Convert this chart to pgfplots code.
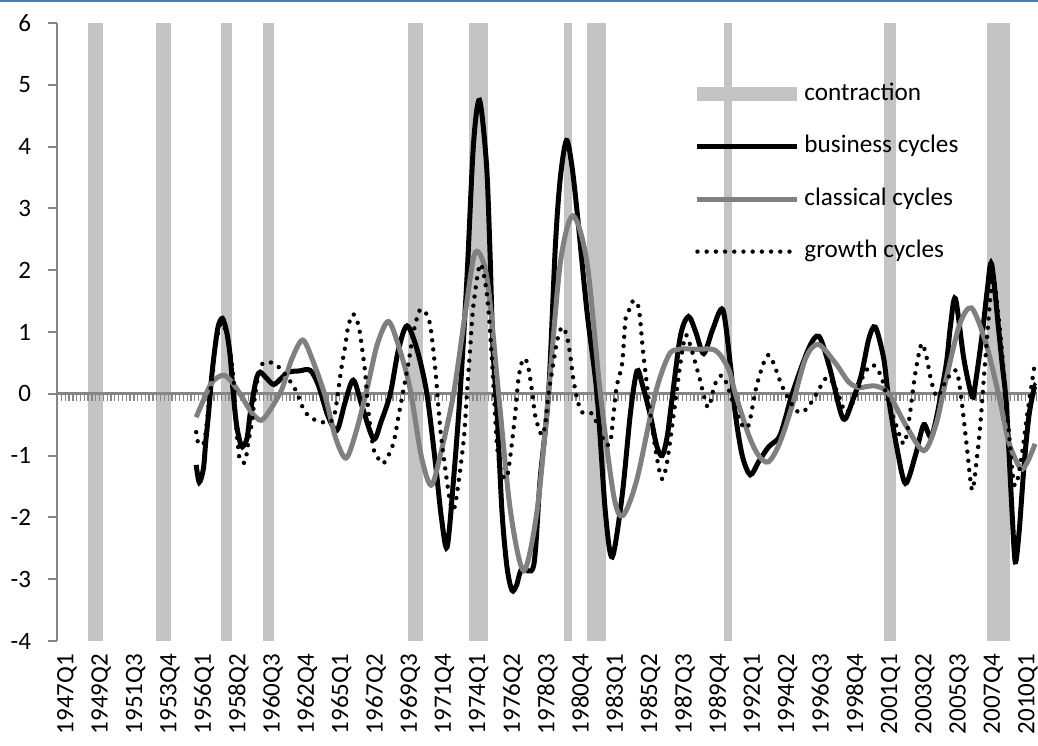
\documentclass[border=0pt]{standalone}
\usepackage{fontspec}
\setmainfont{Carlito}
\usepackage{pgfplots}
\pgfplotsset{compat=1.18}
\definecolor{contr}{RGB}{196,196,196}
\definecolor{axgray}{RGB}{134,134,134}
\definecolor{clsgray}{RGB}{128,128,128}
\definecolor{topblue}{RGB}{74,126,187}
\begin{document}
\begin{tikzpicture}
\begin{axis}[
  name=main,
  at={(0,0)}, anchor=south west,
  scale only axis, width=490pt, height=309pt,
  xmin=-0.5, xmax=256.5, ymin=-4, ymax=6,
  axis y line*=left, axis x line*=bottom,
  x axis line style={draw=none},
  y axis line style={axgray, line width=1pt, -},
  ytick={-4,-3,-2,-1,0,1,2,3,4,5,6},
  ytick style={axgray, line width=1pt},
  major tick length=4.5pt,
  tick align=outside,
  xtick={0,9,...,252},
  xtick style={draw=none},
  xticklabels={1947Q1,1949Q2,1951Q3,1953Q4,1956Q1,1958Q2,1960Q3,1962Q4,1965Q1,1967Q2,1969Q3,1971Q4,1974Q1,1976Q2,1978Q3,1980Q4,1983Q1,1985Q2,1987Q3,1989Q4,1992Q1,1994Q2,1996Q3,1998Q4,2001Q1,2003Q2,2005Q3,2007Q4,2010Q1},
  xticklabel style={rotate=90, anchor=east, yshift=-4pt, xshift=1.5pt, font=\fontsize{12.5}{15}\selectfont},
  yticklabel style={xshift=-5pt, font=\fontsize{12.5}{15}\selectfont},
  /pgf/number format/assume math mode=true,
  legend cell align=left,
  legend image code/.code={\draw[#1] (0pt,0pt) -- (50pt,0pt);},
  legend style={draw=none, fill=none, inner sep=0pt,
    at={(rel axis cs:0.646,0.9045)}, anchor=north west,
    font=\fontsize{12.6}{15}\selectfont, row sep=14.2pt,
    nodes={inner sep=0pt, text height=9pt, text depth=3pt},
    /tikz/every even column/.append style={column sep=5pt}},
]
% contraction periods (quarters after NBER peak through trough)
\addplot[fill=contr, draw=none, forget plot] coordinates {(7.5,-4) (7.5,6) (11.5,6) (11.5,-4)} -- cycle;
\addplot[fill=contr, draw=none, forget plot] coordinates {(25.5,-4) (25.5,6) (29.5,6) (29.5,-4)} -- cycle;
\addplot[fill=contr, draw=none, forget plot] coordinates {(42.5,-4) (42.5,6) (45.5,6) (45.5,-4)} -- cycle;
\addplot[fill=contr, draw=none, forget plot] coordinates {(53.5,-4) (53.5,6) (56.5,6) (56.5,-4)} -- cycle;
\addplot[fill=contr, draw=none, forget plot] coordinates {(91.5,-4) (91.5,6) (95.5,6) (95.5,-4)} -- cycle;
\addplot[fill=contr, draw=none, forget plot] coordinates {(107.5,-4) (107.5,6) (112.5,6) (112.5,-4)} -- cycle;
\addplot[fill=contr, draw=none, forget plot] coordinates {(132.5,-4) (132.5,6) (134.5,6) (134.5,-4)} -- cycle;
\addplot[fill=contr, draw=none, forget plot] coordinates {(138.5,-4) (138.5,6) (143.5,6) (143.5,-4)} -- cycle;
\addplot[fill=contr, draw=none, forget plot] coordinates {(174.5,-4) (174.5,6) (176.5,6) (176.5,-4)} -- cycle;
\addplot[fill=contr, draw=none, forget plot] coordinates {(216.5,-4) (216.5,6) (219.5,6) (219.5,-4)} -- cycle;
\addplot[fill=contr, draw=none, forget plot] coordinates {(243.5,-4) (243.5,6) (249.5,6) (249.5,-4)} -- cycle;
% horizontal axis at zero with quarterly tick marks
\addplot[axgray, line width=2.9pt, dash pattern=on 0.65pt off 1.2555pt, forget plot] coordinates {(-0.5,-0.074) (256.5,-0.074)};
\addplot[axgray, line width=1.65pt, forget plot] coordinates {(-0.5,0) (256.5,0)};
% business cycles
\addplot[black, line width=2.5pt, smooth, tension=0.5, forget plot] coordinates {
(36,-1.15) (36.8,-1.43) (37.9,-1.21) (38.5,-0.78) (39.2,-0.35) (40.1,0.30) (41.0,0.78) (41.8,1.10) (42.9,1.22) (44.0,1.00) (44.9,0.62) (45.8,-0.05) (46.6,-0.51) (47.5,-0.78) (48.1,-0.86) (49.3,-0.73) (50.1,-0.35) (51.0,0.00) (51.9,0.27) (52.8,0.35) (54.5,0.25) (56.3,0.15) (58.3,0.25) (60.2,0.35) (63,0.37) (65.9,0.38) (68.1,0.13) (70.5,-0.35) (72.9,-0.59) (75,-0.15) (77.2,0.22) (79.5,-0.2) (82.5,-0.73) (84.5,-0.45) (86.9,0.0) (89,0.7) (91.3,1.10) (94,0.7) (96.5,0.0) (98.7,-1.10) (100.3,-2.0) (101.8,-2.48) (103.5,-1.38) (105.2,0.0) (107.0,1.86) (108.7,4.02) (110.3,4.75) (112.1,3.74) (113.0,2.39) (113.8,0.78) (114.9,-0.30) (116.2,-1.91) (117.5,-2.8) (118.8,-3.18) (120,-3.1) (121.4,-2.83) (124.5,-2.78) (126.2,-1.38) (128.4,0.0) (130.2,2.40) (131.5,3.5) (133.1,4.10) (134.5,3.7) (135.9,2.94) (138.5,1.32) (141.1,0.0) (143.3,-1.91) (145.1,-2.64) (147.7,-1.65) (149.9,-0.30) (151.6,0.37) (153,0.15) (155.1,-0.35) (156.8,-0.85) (158.2,-1.00) (159.5,-0.7) (160.8,-0.08) (163.0,0.94) (165.1,1.25) (167,1.0) (169.1,0.65) (171.5,1.05) (174.1,1.36) (176.1,0.46) (177.4,-0.33) (179.2,-1.00) (181.3,-1.31) (183.5,-1.1) (186.1,-0.86) (188.8,-0.71) (190.5,-0.4) (192.3,0.0) (196.6,0.73) (199.3,0.93) (202,0.45) (205,-0.3) (206.3,-0.40) (208.2,-0.1) (210.4,0.30) (212.4,0.89) (214.1,1.08) (216.3,0.57) (217.6,-0.08) (219.8,-0.89) (222.0,-1.45) (224.6,-1.00) (226.8,-0.50) (229.0,-0.67) (232.5,0.4) (233.8,1.1) (235.1,1.54) (237.3,0.57) (239.5,-0.05) (240.4,0.19) (242.2,1.0) (243.5,1.70) (244.6,2.10) (246.5,1.0) (247.4,0.46) (248.3,-0.05) (249.1,-0.89) (250.0,-1.97) (250.8,-2.72) (251.8,-2.24) (253.1,-1.16) (254.4,-0.35) (255.7,0.08) (256,0.12)};
% classical cycles
\addplot[clsgray, line width=2.5pt, smooth, tension=0.5, forget plot] coordinates {
(36,-0.38) (39.6,0.13) (41.5,0.26) (43.4,0.30) (45.5,0.18) (48.0,-0.05) (50.5,-0.3) (53.0,-0.43) (55.5,-0.25) (58.5,0.08) (61,0.55) (63.9,0.87) (66.5,0.55) (69.8,-0.03) (72.5,-0.7) (75.3,-1.04) (78,-0.6) (80.8,0.08) (83.5,0.8) (86.4,1.17) (89.2,0.75) (92.1,0.08) (95,-1.0) (97.6,-1.48) (100,-1.0) (103.5,0.0) (106.6,1.32) (109.2,2.29) (112.3,1.86) (115.3,0.0) (118.4,-1.89) (121.9,-2.86) (125.4,-1.89) (128.4,0.0) (131.5,2.12) (134.8,2.88) (138.5,2.12) (142.0,0.0) (145.5,-1.65) (147.9,-1.97) (151.6,-1.38) (156.4,0.0) (159.9,0.62) (162.5,0.72) (167,0.72) (172.2,0.70) (175.6,0.40) (177.4,0.0) (180.9,-0.67) (183.5,-1.0) (186.1,-1.10) (189,-0.8) (192.3,-0.19) (195.8,0.57) (199.1,0.80) (203.6,0.50) (207.1,0.19) (209.8,0.10) (212,0.12) (214.6,0.12) (217.6,0.0) (222.1,-0.51) (226.8,-0.92) (230,-0.5) (232.5,0.19) (236.1,1.10) (239.3,1.39) (243.0,0.84) (246.5,-0.03) (249.1,-0.78) (252.2,-1.21) (254,-1.1) (256,-0.81)};
% growth cycles
\addplot[black, line width=2.2pt, line cap=round, dash pattern=on 0pt off 4.6pt, smooth, tension=0.5, forget plot] coordinates {
(36,-0.62) (36.6,-0.81) (37.9,-0.81) (38.5,-0.62) (39.0,-0.35) (39.6,0.0) (40.3,0.30) (40.8,0.62) (41.4,0.89) (42.6,1.15) (43.8,1.0) (44.9,0.67) (45.8,0.24) (46.2,-0.24) (46.6,-0.62) (47.1,-0.92) (47.5,-1.08) (48.8,-1.10) (49.7,-0.78) (50.6,-0.46) (51.5,0.0) (52.5,0.35) (53.6,0.50) (56.0,0.50) (58.5,0.38) (61.9,0.08) (64.1,-0.24) (65.9,-0.38) (68.5,-0.45) (71.1,-0.46) (72.4,-0.30) (73.3,0.08) (74.2,0.46) (75.1,0.78) (75.9,1.10) (77.2,1.29) (78.6,1.10) (79.4,0.78) (80.3,0.35) (81.2,-0.3) (82.5,-0.89) (83.8,-1.05) (85.0,-1.13) (86.4,-1.00) (87.8,-0.78) (89.1,-0.35) (90.4,0.08) (91.7,0.51) (93.0,1.00) (94.6,1.35) (96.1,1.32) (97.4,1.10) (98.7,0.40) (99.7,-0.35) (100.4,-0.78) (102.6,-1.75) (103.9,-1.80) (106.1,-0.78) (107.0,0.0) (107.9,0.78) (108.7,1.43) (110.5,2.10) (112.3,1.58) (113.6,0.51) (114.9,-0.84) (116.2,-1.3) (117.5,-1.35) (118.4,-1.0) (119.7,-0.30) (120.5,0.24) (121.4,0.51) (122.3,0.57) (123.2,0.40) (124.1,0.03) (124.9,-0.35) (125.8,-0.55) (126.7,-0.67) (127.5,-0.51) (128.4,0.0) (129.3,0.35) (130.6,0.84) (131.9,1.08) (133.2,0.94) (134.1,0.62) (134.9,0.24) (135.9,-0.08) (137.2,-0.30) (139.8,-0.32) (142.0,-0.62) (143.3,-0.81) (144.6,-0.78) (145.5,-0.30) (146.3,0.13) (147.7,0.49) (148.6,1.21) (149.5,1.35) (150.7,1.51) (152.1,1.37) (153.3,0.62) (155.5,-0.5) (157,-1.1) (158.2,-1.38) (159.5,-1.1) (161.5,-0.2) (163,0.5) (164.3,0.94) (165.5,0.8) (167.8,0.30) (170.2,-0.22) (172,0.15) (173.9,0.30) (175.5,0.1) (177.0,-0.19) (179.2,-0.51) (180.5,-0.55) (181.3,-0.4) (183.1,0.16) (186.1,0.63) (189.6,0.13) (192,-0.15) (194.0,-0.30) (196,-0.25) (198.4,-0.03) (201.5,0.27) (204,0.05) (206.3,-0.30) (208.5,-0.1) (211,0.3) (213.3,0.47) (215.5,0.3) (217.6,-0.15) (219.5,-0.5) (221.6,-0.81) (223,-0.4) (224.5,0.3) (226.2,0.81) (227.5,0.6) (228.8,0.2) (230.4,-0.05) (232.5,0.2) (235.2,0.38) (236.5,0.0) (238,-0.8) (239.5,-1.56) (240.8,-1.0) (241.7,-0.45) (243,0.6) (244.9,1.86) (246.5,1.2) (248.3,0.0) (250.4,-1.43) (252,-1.2) (254,-0.3) (256,0.52)};
% legend
\addlegendimage{contr, line width=7pt}
\addlegendentry{contraction}
\addlegendimage{black, line width=2.5pt}
\addlegendentry{business cycles}
\addlegendimage{clsgray, line width=2.5pt}
\addlegendentry{classical cycles}
\addlegendimage{black, line width=2.2pt, line cap=round, dash pattern=on 0pt off 4.6pt}
\addlegendentry{growth cycles}
\end{axis}
\draw[topblue, line width=1.25pt] ([shift={(-28.5pt,319.875pt)}]main.south west) -- ([shift={(490.5pt,319.875pt)}]main.south west);
\pgfresetboundingbox
\path ([shift={(-28.5pt,-52pt)}]main.south west) rectangle ([shift={(490.5pt,320.5pt)}]main.south west);
\end{tikzpicture}
\end{document}
